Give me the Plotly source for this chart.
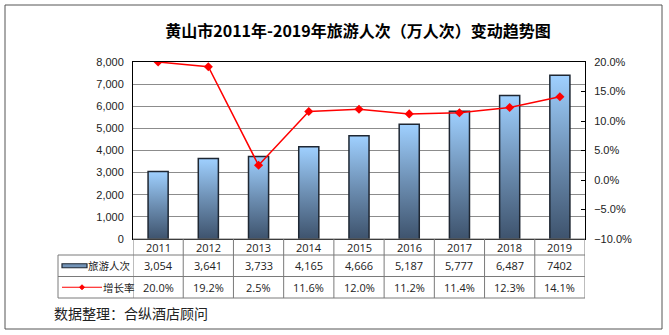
import plotly.graph_objects as go

# ---- data ----
years = ["2011", "2012", "2013", "2014", "2015", "2016", "2017", "2018", "2019"]
visitors = [3054, 3641, 3733, 4165, 4666, 5187, 5777, 6487, 7402]
visitor_labels = ["3,054", "3,641", "3,733", "4,165", "4,666", "5,187", "5,777", "6,487", "7402"]
growth = [20.0, 19.2, 2.5, 11.6, 12.0, 11.2, 11.4, 12.3, 14.1]
growth_labels = ["20.0%", "19.2%", "2.5%", "11.6%", "12.0%", "11.2%", "11.4%", "12.3%", "14.1%"]
series_names = ["旅游人次", "增长率"]
title_text = "黄山市2011年-2019年旅游人次（万人次）变动趋势图"
source_text = "数据整理：合纵酒店顾问"

W, H = 669, 335
L, R, T, B = 133, 585, 62, 239
PW, PH = R - L, B - T

def px(x):
    return (x - L) / PW

def py(y):
    return (B - y) / PH

CJK = "Noto Sans CJK SC"
TBL = "Open Sans, Noto Sans CJK SC, sans-serif"
ARIAL = "Liberation Sans, Arial, sans-serif"

fig = go.Figure()

half = 0.2
for i, v in enumerate(visitors):
    fig.add_trace(go.Scatter(
        x=[i - half, i - half, i + half, i + half, i - half],
        y=[0, v, v, 0, 0],
        mode="lines", fill="toself",
        line=dict(color="#1e2733", width=1.5),
        fillgradient=dict(type="vertical",
                          colorscale=[[0, "#3e536d"], [0.5, "#6d8fb3"], [1, "#9fd0ff"]]),
        hoverinfo="skip", showlegend=False))

fig.add_trace(go.Scatter(
    x=list(range(len(years))), y=[g / 100 for g in growth], yaxis="y2",
    mode="lines+markers", line=dict(color="#ff0000", width=1.5),
    marker=dict(symbol="diamond", size=7, color="#ff0000"),
    name=series_names[1], showlegend=False))

shapes = []
annotations = []

# table geometry (pixels)
rows = [239, 255, 276.5, 298]
tbl_left = 58
lc = "#7a7a7a"
shapes.append(dict(type="line", xref="paper", yref="paper", x0=0, x1=1,
                   y0=py(rows[0]), y1=py(rows[0]), line=dict(color=lc, width=1)))
for r in rows[1:]:
    shapes.append(dict(type="line", xref="paper", yref="paper", x0=px(tbl_left), x1=1,
                       y0=py(r), y1=py(r), line=dict(color=lc, width=1)))
shapes.append(dict(type="line", xref="paper", yref="paper", x0=px(tbl_left), x1=px(tbl_left),
                   y0=py(rows[1]), y1=py(rows[3]), line=dict(color=lc, width=1)))
for k in range(len(years) + 1):
    shapes.append(dict(type="line", xref="x", yref="paper", x0=k - 0.5, x1=k - 0.5,
                       y0=py(rows[0]), y1=py(rows[3]), line=dict(color=lc, width=1)))

tfont = dict(family=TBL, size=11, color="#222")
lfont = dict(family=CJK, size=10.5, color="#222")

def ann(x, y, text, xref="x", xanchor="center", font=tfont):
    annotations.append(dict(x=x, y=y, xref=xref, yref="paper", text=text, showarrow=False,
                            xanchor=xanchor, yanchor="middle", font=font, borderpad=0))

for i in range(len(years)):
    ann(i, py((rows[0] + rows[1]) / 2), years[i])
    ann(i, py((rows[1] + rows[2]) / 2), visitor_labels[i])
    ann(i, py((rows[2] + rows[3]) / 2), growth_labels[i])

# legend glyphs
ym1 = (rows[1] + rows[2]) / 2
shapes.append(dict(type="rect", xref="paper", yref="paper", x0=px(62), x1=px(87),
                   y0=py(ym1 + 2), y1=py(ym1 - 2), fillcolor="#7394b8",
                   line=dict(color="#1e2733", width=1.2)))
ann(px(87), py(ym1), series_names[0], xref="paper", xanchor="left", font=lfont)
ym2 = (rows[2] + rows[3]) / 2
shapes.append(dict(type="line", xref="paper", yref="paper", x0=px(62), x1=px(102),
                   y0=py(ym2), y1=py(ym2), line=dict(color="#ff0000", width=1.2)))
d = 2.5
shapes.append(dict(type="path", xref="paper", yref="paper",
                   path=f"M {px(82)} {py(ym2 - d)} L {px(82 + d)} {py(ym2)} L {px(82)} {py(ym2 + d)} L {px(82 - d)} {py(ym2)} Z",
                   fillcolor="#ff0000", line=dict(color="#ff0000", width=1)))
ann(px(102), py(ym2), series_names[1], xref="paper", xanchor="left", font=lfont)

# source text
ann(px(53), py(313), source_text, xref="paper", xanchor="left",
    font=dict(family=CJK, size=14, color="#222"))

# outer border
shapes.append(dict(type="rect", xref="paper", yref="paper", x0=px(5), x1=px(662),
                   y0=py(329), y1=py(5), line=dict(color="#555", width=1), fillcolor="rgba(0,0,0,0)"))

fig.update_layout(
    width=W, height=H,
    margin=dict(l=L, r=W - R, t=T, b=H - B, pad=0),
    paper_bgcolor="white", plot_bgcolor="white",
    title=dict(text=title_text, x=358 / W, xanchor="center", y=1 - 31 / H, yanchor="middle",
               font=dict(family=CJK, size=16, color="#000", weight="bold")),
    xaxis=dict(range=[-0.5, len(years) - 0.5], showticklabels=False, showgrid=False,
               zeroline=False, showline=True, linecolor="black", linewidth=1, mirror=True,
               ticks=""),
    yaxis=dict(range=[0, 8000], dtick=1000, tickformat=",", showgrid=True,
               gridcolor="#8c8c8c", gridwidth=1, zeroline=False, showline=True,
               linecolor="black", linewidth=1, ticks="", ticklabelstandoff=6,
               tickfont=dict(family=ARIAL, size=11, color="#222")),
    yaxis2=dict(range=[-0.10, 0.20], dtick=0.05, tickformat=".1%", overlaying="y",
                side="right", showgrid=False, zeroline=False, showline=True,
                linecolor="black", linewidth=1, ticks="inside", ticklen=4,
                tickcolor="black", ticklabelstandoff=6,
                tickfont=dict(family=ARIAL, size=11, color="#222")),
    shapes=shapes, annotations=annotations, showlegend=False,
)

fig.write_html("out.html")
